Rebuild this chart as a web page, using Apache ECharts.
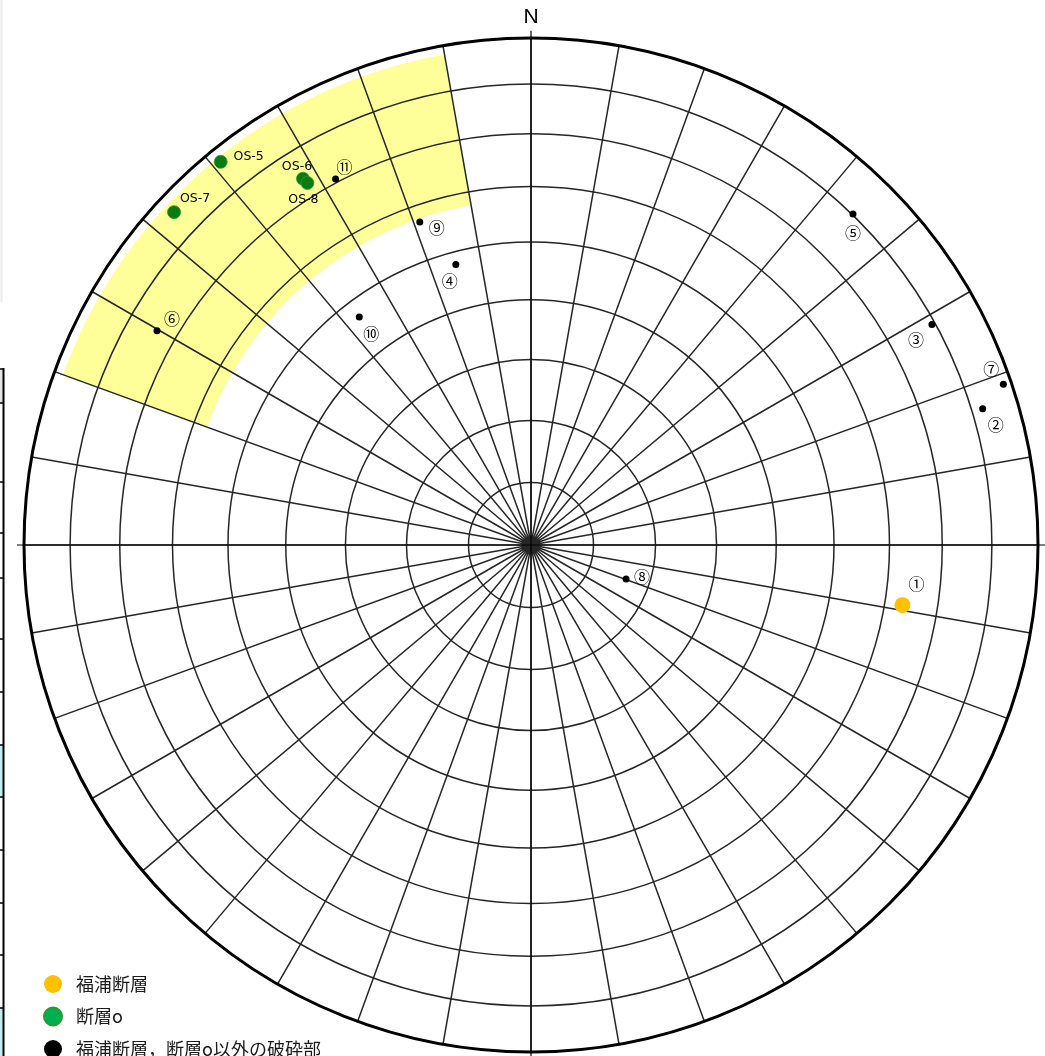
<!DOCTYPE html>
<html>
<head>
<meta charset="utf-8">
<script src="https://cdn.jsdelivr.net/npm/echarts@6/dist/echarts.min.js"></script>
<style>
  html, body { margin: 0; padding: 0; background: #fff; }
  #chart { width: 1045px; height: 1056px; }
</style>
</head>
<body>
<div id="chart"></div>
<script>
// Equal-area (Schmidt) polar net.
// Each point: azimuth (deg, clockwise from N) and angle from the net centre (deg, 0-90).

const fukuuraNames   = ['①'];
const fukuuraAzimuth = [99.2];
const fukuuraAngle   = [63.3];

const faultONames    = ['OS-5', 'OS-6', 'OS-7', 'OS-8'];
const faultOAzimuth  = [321.0, 328.1, 313.0, 328.3];
const faultOAngle    = [86.9, 74.0, 85.8, 72.8];

const otherNames     = ['②', '③', '④', '⑤', '⑥', '⑦', '⑧', '⑨', '⑩', '⑪'];
const otherAzimuth   = [73.2, 61.2, 345.0, 44.2, 299.8, 71.2, 109.7, 341.0, 323.0, 331.9];
const otherAngle     = [82.3, 79.3, 47.8, 80.2, 73.9, 88.2, 16.2, 56.9, 46.9, 70.7];

// net rings (angle from centre) and the shaded band
const ringAngles   = [10, 20, 30, 40, 50, 60, 70, 80];
const bandAzimuth  = [290, 350];
const bandAngle    = [57.5, 88];
const crossAzimuth = [0, 90, 180, 270];

const seriesNames = ['福浦断層', '断層o', '福浦断層，断層o以外の破砕部'];

// label placement (pixel offsets from each mark)
const labelOffsets = {
  '①': [14, -21], '②': [13, 16], '③': [-16, 15], '④': [-6, 17], '⑤': [0, 19],
  '⑥': [15, -12], '⑦': [-12, -15], '⑧': [16, -2], '⑨': [17, 6], '⑩': [12, 17],
  '⑪': [9, -12], 'OS-5': [28, -5], 'OS-6': [-6, -12], 'OS-7': [21, -13], 'OS-8': [-4, 17]
};
const crossReach = { 0: 1.0145, 90: 1.05, 180: 1.05, 270: 1.0138 };

// Equal-area projection: angle from centre -> normalised radius (0..1)
const proj = a => Math.sin(a / 2 * Math.PI / 180) / Math.sin(Math.PI / 4);

function points(names, az, ang) {
  return names.map((n, i) => ({
    name: n,
    value: [proj(ang[i]), az[i]],
    label: { offset: labelOffsets[n] }
  }));
}

const circledLabel = {
  show: true, position: 'inside', formatter: '{b}', color: '#000',
  fontSize: 16, fontFamily: 'Noto Sans CJK JP'
};
const osLabel = {
  show: true, position: 'inside', formatter: '{b}', color: '#000',
  fontSize: 12.5, fontFamily: 'DejaVu Sans'
};
const gridColor = '#262626';

const chart = echarts.init(document.getElementById('chart'), null, { renderer: 'canvas' });

// remnants of the neighbouring table on the left edge
const edgeTicks = [369, 403, 482, 533, 578, 639, 692, 745, 797, 850, 903, 955, 1008];
const edgeGraphics = [
  { type: 'rect', shape: { x: 0, y: 369, width: 3, height: 34 }, style: { fill: '#e4e4e4' } },
  { type: 'rect', shape: { x: 0, y: 745, width: 3, height: 52 }, style: { fill: '#bfeeee' } },
  { type: 'rect', shape: { x: 0, y: 1008, width: 3, height: 48 }, style: { fill: '#bfeeee' } },
  { type: 'line', shape: { x1: 3.5, y1: 368, x2: 3.5, y2: 1056 }, style: { stroke: '#000', lineWidth: 2 } },
  { type: 'line', shape: { x1: 1.5, y1: 0, x2: 1.5, y2: 302 }, style: { stroke: '#ececec', lineWidth: 2 } }
].concat(edgeTicks.map(y => ({
  type: 'line', shape: { x1: 0, y1: y, x2: 4, y2: y }, style: { stroke: '#000', lineWidth: 1.5 }
})));

chart.setOption({
  animation: false,
  backgroundColor: '#fff',
  polar: { center: [531, 545], radius: 507 },
  angleAxis: {
    type: 'value', min: 0, max: 360, interval: 10,
    startAngle: 90, clockwise: true,
    axisLine: { show: true, lineStyle: { color: '#000', width: 3 } },
    axisTick: { show: false },
    axisLabel: { show: false },
    splitLine: { show: true, lineStyle: { color: gridColor, width: 1.5 } }
  },
  radiusAxis: {
    type: 'value', min: 0, max: 1,
    axisLine: { show: false }, axisTick: { show: false },
    axisLabel: { show: false }, splitLine: { show: false }
  },
  legend: {
    orient: 'vertical', left: 43, top: 975, height: 120, padding: 0,
    itemWidth: 18, itemHeight: 18, itemGap: 13.5,
    icon: 'circle', selectedMode: false,
    textStyle: { fontSize: 18, color: '#1a1a1a', fontFamily: 'Noto Sans CJK JP', padding: [0, 0, 0, 9] },
    data: [
      { name: seriesNames[0], itemStyle: { color: '#FFC000', opacity: 1 } },
      { name: seriesNames[1], itemStyle: { color: '#00B050', opacity: 1 } },
      { name: seriesNames[2], itemStyle: { color: '#000000', opacity: 1 } }
    ]
  },
  graphic: edgeGraphics.concat([
    { type: 'text', x: 531, y: 17,
      style: { text: 'N', fontSize: 21, fontFamily: 'Liberation Sans', fill: '#000',
               textAlign: 'center', textVerticalAlign: 'middle', align: 'center', verticalAlign: 'middle' } }
  ]),
  series: [
    {
      // shaded band
      type: 'custom', coordinateSystem: 'polar', silent: true, z: -1,
      data: [[proj(bandAngle[0]), proj(bandAngle[1]), bandAzimuth[0], bandAzimuth[1]]],
      renderItem(params, api) {
        const c = api.coord([0, 0]);
        const pIn = api.coord([api.value(0), api.value(2)]);
        const pOut = api.coord([api.value(1), api.value(2)]);
        const pEnd = api.coord([api.value(1), api.value(3)]);
        return {
          type: 'sector',
          shape: {
            cx: c[0], cy: c[1],
            r0: Math.hypot(pIn[0] - c[0], pIn[1] - c[1]),
            r: Math.hypot(pOut[0] - c[0], pOut[1] - c[1]),
            startAngle: Math.atan2(pOut[1] - c[1], pOut[0] - c[0]),
            endAngle: Math.atan2(pEnd[1] - c[1], pEnd[0] - c[0]),
            clockwise: true
          },
          style: { fill: '#FFFF99' }
        };
      }
    },
    {
      // net rings
      type: 'custom', coordinateSystem: 'polar', silent: true, z: 3,
      data: ringAngles.map(a => [proj(a), 0]),
      renderItem(params, api) {
        const c = api.coord([0, 0]);
        const p = api.coord([api.value(0), 0]);
        return {
          type: 'circle',
          shape: { cx: c[0], cy: c[1], r: Math.hypot(p[0] - c[0], p[1] - c[1]) },
          style: { fill: 'none', stroke: gridColor, lineWidth: 1.5 }
        };
      }
    },
    {
      // N-S and E-W cross lines
      type: 'custom', coordinateSystem: 'polar', silent: true, z: 4,
      data: crossAzimuth.map(a => [1, a]),
      renderItem(params, api) {
        const c = api.coord([0, 0]);
        const p = api.coord([1, api.value(1)]);
        const k = crossReach[api.value(1)] || 1;
        return {
          type: 'line',
          shape: { x1: c[0], y1: c[1], x2: c[0] + (p[0] - c[0]) * k, y2: c[1] + (p[1] - c[1]) * k },
          style: { stroke: '#000', lineWidth: 1.2 }
        };
      }
    },
    {
      name: seriesNames[0], type: 'scatter', coordinateSystem: 'polar', z: 6,
      symbol: 'circle', symbolSize: 16,
      itemStyle: { color: '#FFC000', opacity: 1 },
      label: circledLabel,
      data: points(fukuuraNames, fukuuraAzimuth, fukuuraAngle)
    },
    {
      name: seriesNames[1], type: 'scatter', coordinateSystem: 'polar', z: 6,
      symbol: 'circle', symbolSize: 13,
      itemStyle: { color: '#0b7a10', borderColor: '#2a9a30', borderWidth: 0.8, opacity: 1 },
      label: osLabel,
      data: points(faultONames, faultOAzimuth, faultOAngle)
    },
    {
      name: seriesNames[2], type: 'scatter', coordinateSystem: 'polar', z: 6,
      symbol: 'circle', symbolSize: 7,
      itemStyle: { color: '#000', opacity: 1 },
      label: circledLabel,
      data: points(otherNames, otherAzimuth, otherAngle)
    }
  ]
});
</script>
</body>
</html>
